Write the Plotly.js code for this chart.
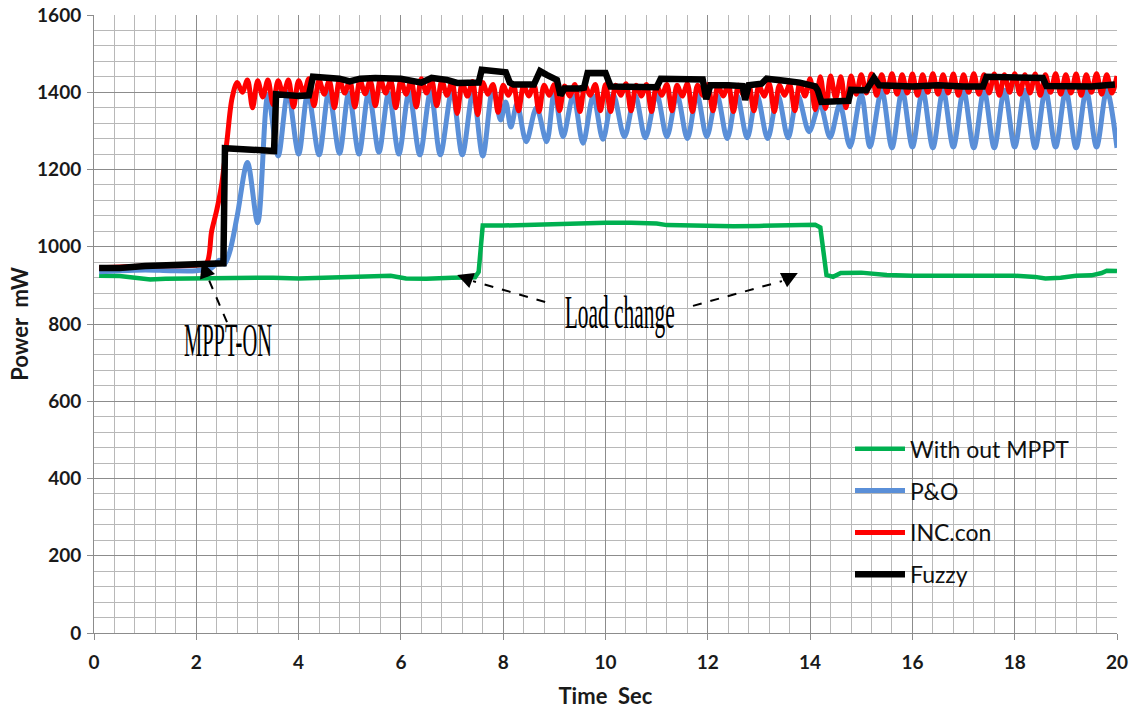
<!DOCTYPE html>
<html>
<head>
<meta charset="utf-8">
<script src="https://cdn.plot.ly/plotly-3.0.1.min.js"></script>
<style>
  html, body { margin: 0; padding: 0; background: #ffffff; }
  #chart { width: 1134px; height: 709px; }
</style>
</head>
<body>
<div id="chart"></div>
<script>
// ---------------- Data ----------------
var seriesNames = ['With out MPPT', 'P&O', 'INC.con', 'Fuzzy'];

// With out MPPT (green)
var greenT = [0.1, 0.5, 0.8, 1.1, 1.4, 2.0, 2.5, 3.0, 3.5, 4.0, 4.5, 5.0, 5.5, 5.8, 6.1, 6.5, 7.0, 7.45, 7.52, 7.6,
              8.0, 8.5, 9.0, 9.5, 10.0, 10.5, 11.0, 11.2, 11.5, 12.0, 12.5, 13.0, 13.5, 13.9, 14.1, 14.2, 14.32, 14.45,
              14.6, 15.0, 15.5, 16.0, 16.5, 17.0, 17.5, 18.0, 18.4, 18.6, 18.9, 19.2, 19.5, 19.7, 19.8, 20.0];
var greenV = [925, 924, 920, 915, 917, 918, 918, 918, 920, 918, 920, 922, 922, 925, 918, 917, 920, 921, 935, 1055,
              1055, 1057, 1058, 1060, 1062, 1062, 1060, 1056, 1055, 1054, 1053, 1054, 1055, 1056, 1057, 1050, 927, 922,
              932, 933, 927, 925, 926, 925, 925, 925, 922, 918, 920, 925, 926, 932, 938, 937];

// P&O (blue) - peaks and troughs
var poT = [0.1, 0.5, 1.0, 1.5, 2.0, 2.3, 2.45, 2.55, 2.65, 2.8, 3.0, 3.2, 3.4, 3.6, 3.79, 4.0, 4.18, 4.4, 4.59, 4.8,
           4.98, 5.18, 5.37, 5.57, 5.76, 5.96, 6.16, 6.37, 6.58, 6.77, 7.0, 7.2, 7.41, 7.6, 7.8, 7.95, 8.05, 8.15, 8.27,
           8.45, 8.65, 8.85, 9.0, 9.17, 9.37, 9.56, 9.76, 9.95, 10.15, 10.37, 10.58, 10.78, 11.0, 11.2, 11.4, 11.6,
           11.79, 11.98, 12.18, 12.38, 12.57, 12.77, 12.96, 13.17, 13.37, 13.57, 13.76, 13.98, 14.19, 14.39, 14.58,
           14.78, 15.0, 15.17, 15.4, 15.6, 15.8, 16.0, 16.2, 16.4, 16.6, 16.8, 17.0, 17.2, 17.4, 17.6, 17.8, 18.0,
           18.2, 18.4, 18.6, 18.8, 19.0, 19.2, 19.4, 19.6, 19.8, 20.0];
var poV = [935, 938, 940, 938, 938, 945, 965, 955, 985, 1080, 1218, 1062, 1393, 1235, 1400, 1240, 1398, 1238, 1400, 1242,
           1398, 1240, 1400, 1245, 1398, 1240, 1400, 1238, 1402, 1238, 1405, 1238, 1400, 1235, 1412, 1328, 1375, 1310, 1370,
           1272, 1360, 1272, 1400, 1285, 1392, 1268, 1390, 1278, 1395, 1285, 1392, 1282, 1395, 1285, 1392, 1280,
           1393, 1285, 1392, 1280, 1392, 1282, 1393, 1280, 1392, 1282, 1392, 1298, 1370, 1283, 1368,
           1259, 1395, 1259, 1405, 1256, 1405, 1258, 1405, 1256, 1405, 1258, 1405, 1256, 1405, 1256, 1405, 1258,
           1405, 1256, 1405, 1258, 1405, 1256, 1405, 1258, 1405, 1256];

// INC.con (red)
var incT = [0.1, 1.0, 2.0, 2.2, 2.3, 2.4, 2.5, 2.6, 2.7, 2.8, 2.9,
  3.0, 3.1, 3.2, 3.3, 3.4, 3.5, 3.6, 3.7, 3.8, 3.9,
  4.0, 4.1, 4.2, 4.3, 4.4, 4.5, 4.6, 4.7, 4.8, 4.9,
  5.0, 5.1, 5.2, 5.3, 5.4, 5.5, 5.6, 5.7, 5.8, 5.9,
  6.0, 6.1, 6.2, 6.3, 6.4, 6.5, 6.6, 6.7, 6.8, 6.9,
  7.0, 7.1, 7.2, 7.3, 7.4, 7.5, 7.6, 7.7, 7.8, 7.9,
  8.0, 8.1, 8.2, 8.3, 8.4, 8.5, 8.6, 8.7, 8.8, 8.9,
  9.0, 9.1, 9.2, 9.3, 9.4, 9.5, 9.6, 9.7, 9.8, 9.9,
  10.0, 10.1, 10.2, 10.3, 10.4, 10.5, 10.6, 10.7, 10.8, 10.9,
  11.0, 11.1, 11.2, 11.3, 11.4, 11.5, 11.6, 11.7, 11.8, 11.9,
  12.0, 12.1, 12.2, 12.3, 12.4, 12.5, 12.6, 12.7, 12.8, 12.9,
  13.0, 13.1, 13.2, 13.3, 13.4, 13.5, 13.6, 13.7, 13.8, 13.9,
  14.0, 14.1, 14.2, 14.3, 14.4, 14.5, 14.6, 14.7, 14.8, 14.9,
  15.0, 15.1, 15.2, 15.3, 15.4, 15.5, 15.6, 15.7, 15.8, 15.9,
  16.0, 16.1, 16.2, 16.3, 16.4, 16.5, 16.6, 16.7, 16.8, 16.9,
  17.0, 17.1, 17.2, 17.3, 17.4, 17.5, 17.6, 17.7, 17.8, 17.9,
  18.0, 18.1, 18.2, 18.3, 18.4, 18.5, 18.6, 18.7, 18.8, 18.9,
  19.0, 19.1, 19.2, 19.3, 19.4, 19.5, 19.6, 19.7, 19.8, 19.9,
  20.0];
var incV = [945, 950, 953, 958, 1040, 1095, 1165, 1275, 1385, 1425, 1400,
  1432, 1360, 1430, 1388, 1432, 1368, 1430, 1395, 1432, 1362,
  1430, 1398, 1435, 1365, 1432, 1395, 1430, 1360, 1433, 1398,
  1430, 1362, 1432, 1396, 1430, 1365, 1434, 1398, 1430, 1360,
  1432, 1395, 1430, 1362, 1435, 1398, 1432, 1365, 1430, 1392,
  1428, 1345, 1425, 1390, 1428, 1342, 1425, 1395, 1420, 1348,
  1418, 1392, 1420, 1352, 1418, 1390, 1420, 1350, 1418, 1392,
  1420, 1352, 1416, 1390, 1420, 1350, 1418, 1392, 1420, 1352,
  1420, 1350, 1418, 1392, 1422, 1352, 1418, 1390, 1420, 1350,
  1418, 1392, 1420, 1352, 1418, 1390, 1422, 1350, 1418, 1392,
  1420, 1352, 1418, 1390, 1420, 1350, 1418, 1392, 1420, 1352,
  1418, 1390, 1422, 1350, 1418, 1392, 1420, 1352, 1425, 1390,
  1435, 1355, 1440, 1358, 1442, 1385, 1440, 1360, 1442, 1395,
  1445, 1398, 1447, 1392, 1445, 1400, 1448, 1395, 1445, 1398,
  1447, 1392, 1445, 1400, 1448, 1395, 1445, 1398, 1447, 1392,
  1445, 1400, 1448, 1395, 1445, 1398, 1447, 1392, 1445, 1400,
  1448, 1395, 1445, 1398, 1447, 1392, 1445, 1400, 1448, 1395,
  1445, 1398, 1447, 1392, 1445, 1400, 1448, 1395, 1445, 1398,
  1442];

// Fuzzy (black)
var fuzzyT = [0.1, 0.5, 1.0, 1.5, 2.0, 2.5, 2.53, 2.56, 3.0, 3.48, 3.52, 3.56, 4.0, 4.2, 4.25, 4.28, 4.8, 5.0, 5.2, 5.5,
              6.0, 6.2, 6.4, 6.6, 6.9, 7.1, 7.4, 7.52, 7.58, 7.8, 8.05, 8.13, 8.2, 8.6, 8.72, 8.85, 9.05, 9.12, 9.2,
              9.5, 9.58, 9.65, 10.0, 10.1, 10.5, 11.0, 11.08, 11.5, 11.9, 11.97, 12.05, 12.4, 12.68, 12.73, 12.8,
              13.05, 13.15, 13.5, 13.8, 14.1, 14.15, 14.22, 14.5, 14.75, 14.8, 15.1, 15.25, 15.35, 16.0, 16.5, 17.0,
              17.38, 17.45, 18.0, 18.55, 18.62, 19.0, 19.5, 19.96];
var fuzzyV = [945, 945, 950, 952, 955, 955, 957, 1255, 1250, 1245, 1248, 1395, 1390, 1392, 1438, 1440, 1435, 1428, 1435, 1437,
              1435, 1428, 1425, 1437, 1432, 1424, 1422, 1425, 1458, 1455, 1452, 1425, 1420, 1420, 1455, 1445, 1432, 1392, 1410,
              1410, 1412, 1450, 1450, 1415, 1413, 1413, 1435, 1433, 1433, 1382, 1418, 1418, 1416, 1380, 1418,
              1422, 1435, 1430, 1425, 1415, 1405, 1375, 1377, 1378, 1406, 1405, 1437, 1418, 1415, 1418, 1415,
              1415, 1440, 1437, 1437, 1416, 1415, 1415, 1420];

// Axis ticks
var xTickVals = [0, 2, 4, 6, 8, 10, 12, 14, 16, 18, 20];
var yTickVals = [0, 200, 400, 600, 800, 1000, 1200, 1400, 1600];

// ---------------- Chart ----------------
var colors = ['#00b050', '#5a8fd8', '#ff0000', '#000000'];
var widths = [4.5, 5, 5, 6.5];
var xs = [greenT, poT, incT, fuzzyT];
var ys = [greenV, poV, incV, fuzzyV];
var shapesLine = ['linear', 'spline', 'spline', 'linear'];

var traces = seriesNames.map(function (n, i) {
  return {
    type: 'scatter', mode: 'lines', name: n,
    x: xs[i], y: ys[i],
    line: { color: colors[i], width: widths[i], shape: shapesLine[i], smoothing: 0.9 },
    legendgroup: 'g' + i,
    hoverinfo: 'skip'
  };
});

var tickFont = { family: 'Lato, Liberation Sans, sans-serif', size: 19, color: '#1a1a1a', weight: 'bold' };
var titleFont = { family: 'Lato, Liberation Sans, sans-serif', size: 22, color: '#1a1a1a', weight: 'bold' };
var serif = { family: 'Liberation Serif, DejaVu Serif, serif', size: 47, color: '#000' };

var layout = {
  width: 1134, height: 709,
  margin: { l: 94, r: 17, t: 15, b: 76 },
  paper_bgcolor: '#ffffff', plot_bgcolor: '#ffffff',
  showlegend: true,
  legend: {
    x: 0.739, y: 0.333, xanchor: 'left', yanchor: 'top',
    bgcolor: 'rgba(0,0,0,0)', borderwidth: 0,
    font: { family: 'Lato, Liberation Sans, sans-serif', size: 23, color: '#111' },
    tracegroupgap: 9, itemwidth: 50
  },
  xaxis: {
    range: [0, 20], tickvals: xTickVals, ticktext: xTickVals.map(String),
    showgrid: true, gridcolor: '#8c8c8c', gridwidth: 1,
    minor: { dtick: 0.4, tick0: 0, showgrid: true, gridcolor: '#b8b8b8', gridwidth: 1 },
    showline: true, linecolor: '#8c8c8c', linewidth: 1, zeroline: false,
    ticks: 'outside', ticklen: 6, tickcolor: '#8c8c8c', ticklabelstandoff: 6,
    tickfont: tickFont,
    title: { text: 'Time\u00a0 Sec', font: titleFont, standoff: 16 },
    fixedrange: true
  },
  yaxis: {
    range: [0, 1600], tickvals: yTickVals, ticktext: yTickVals.map(String),
    showgrid: true, gridcolor: '#8c8c8c', gridwidth: 1,
    minor: { dtick: 40, tick0: 0, showgrid: true, gridcolor: '#b8b8b8', gridwidth: 1 },
    showline: true, linecolor: '#8c8c8c', linewidth: 1, zeroline: false,
    ticks: 'outside', ticklen: 6, tickcolor: '#8c8c8c', ticklabelstandoff: 2,
    tickfont: tickFont,
    title: { text: 'Power\u00a0 mW', font: titleFont, standoff: 2 },
    fixedrange: true
  },
  shapes: [
    { type: 'line', xref: 'x', yref: 'y', x0: 2.60, y0: 805, x1: 2.23, y1: 919, line: { color: '#000', width: 2, dash: 'dash' } },
    { type: 'line', xref: 'x', yref: 'y', x0: 8.82, y0: 857, x1: 7.41, y1: 911, line: { color: '#000', width: 2, dash: 'dash' } },
    { type: 'line', xref: 'x', yref: 'y', x0: 11.71, y0: 847, x1: 13.45, y1: 911, line: { color: '#000', width: 2, dash: 'dash' } }
  ],
  annotations: [
    { x: 2.62, y: 758, xref: 'x', yref: 'y', text: 'MPPT-ON', showarrow: false, font: serif },
    { x: 10.28, y: 831, xref: 'x', yref: 'y', text: 'Load change', showarrow: false, font: serif },
    { x: 2.11, y: 961, xref: 'x', yref: 'y', text: '', showarrow: true, ax: 6, ay: 16, arrowhead: 2, arrowsize: 1.6, arrowwidth: 2, arrowcolor: '#000', standoff: 0 },
    { x: 7.10, y: 927, xref: 'x', yref: 'y', text: '', showarrow: true, ax: 16, ay: 6, arrowhead: 2, arrowsize: 1.6, arrowwidth: 2, arrowcolor: '#000', standoff: 0 },
    { x: 13.76, y: 932, xref: 'x', yref: 'y', text: '', showarrow: true, ax: -16, ay: 8, arrowhead: 2, arrowsize: 1.6, arrowwidth: 2, arrowcolor: '#000', standoff: 0 }
  ]
};

Plotly.newPlot('chart', traces, layout, { displayModeBar: false, staticPlot: true }).then(function () {
  var lens = { 'MPPT-ON': 88, 'Load change': 110 };
  document.querySelectorAll('.annotation-text').forEach(function (el) {
    var t = el.textContent;
    if (lens[t]) {
      el.setAttribute('textLength', lens[t]);
      el.setAttribute('lengthAdjust', 'spacingAndGlyphs');
    }
  });
});
</script>
</body>
</html>
